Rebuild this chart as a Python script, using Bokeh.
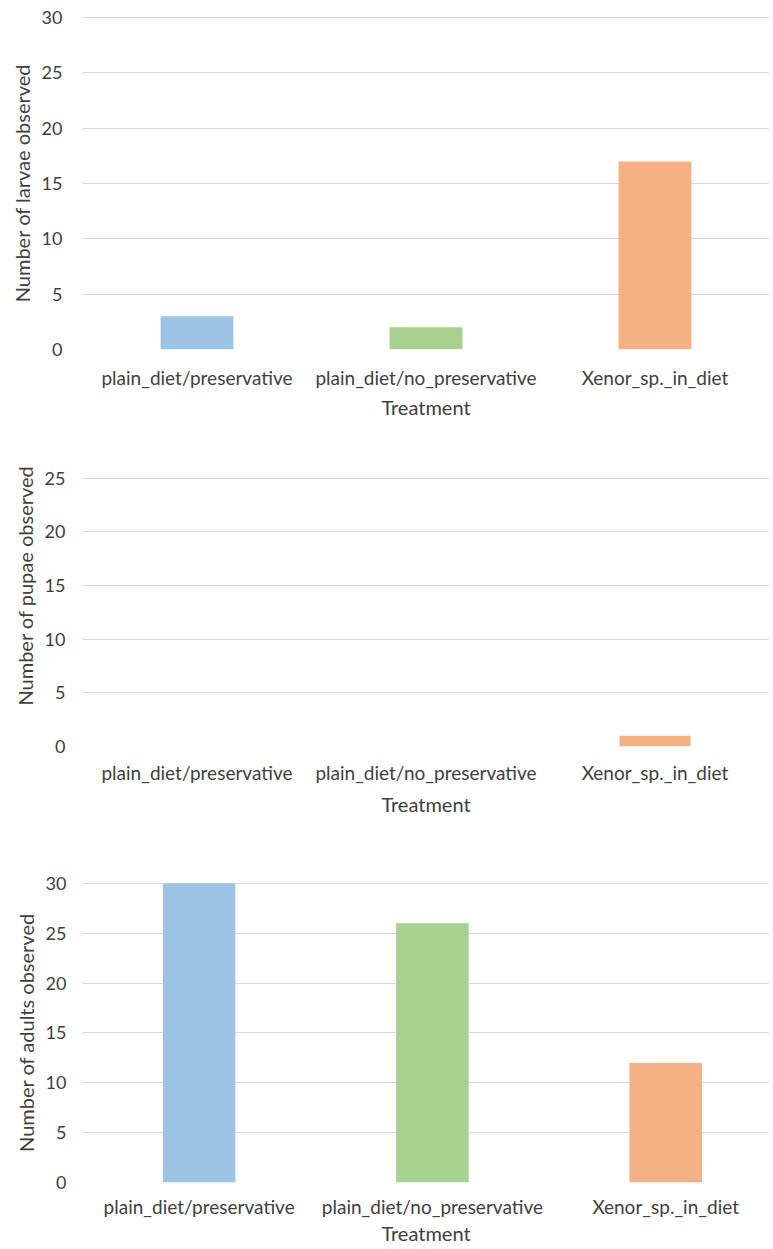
from bokeh.plotting import figure
from bokeh.layouts import column
from bokeh.models import Range1d, FixedTicker, ColumnDataSource
from bokeh.embed import file_html
from bokeh.resources import INLINE

# ---- data ----
categories = ["plain_diet/preservative", "plain_diet/no_preservative", "Xenor_sp._in_diet"]
larvae = [3, 2, 17]
pupae = [0, 0, 1]
adults = [30, 26, 12]
bar_colors = ["#9DC3E6", "#A9D18E", "#F4B183"]
yticks_larvae = [0, 5, 10, 15, 20, 25, 30]
yticks_pupae = [0, 5, 10, 15, 20, 25]
yticks_adults = [0, 5, 10, 15, 20, 25, 30]
x_title = "Treatment"

FONT = "Lato"
TEXT = "#404040"
GRID = "#D9D9D9"


def make(values, ylabel, yticks, ymax, xend, height, top, bottom, left, right,
         bar_w, ystand, xstand, xlabstand):
    p = figure(width=773, height=height,
               x_range=Range1d(-0.5, xend), y_range=Range1d(0, ymax),
               output_backend="svg", toolbar_location=None,
               min_border_top=top, min_border_bottom=bottom,
               min_border_left=left, min_border_right=right)
    xs = list(range(len(categories)))
    src = ColumnDataSource(dict(x=xs, top=values, color=bar_colors, cat=categories))
    p.vbar(x="x", top="top", bottom=0, width=bar_w, fill_color="color",
           line_color=None, source=src)
    p.outline_line_color = None
    p.background_fill_color = "white"
    p.border_fill_color = "white"
    p.xgrid.visible = False
    p.ygrid.ticker = FixedTicker(ticks=yticks)
    p.ygrid.grid_line_color = GRID
    p.ygrid.grid_line_width = 1

    for ax in (p.xaxis[0], p.yaxis[0]):
        ax.axis_line_color = None
        ax.major_tick_line_color = None
        ax.minor_tick_line_color = None
        ax.major_tick_out = 0
        ax.major_tick_in = 0
        ax.major_label_text_font = FONT
        ax.major_label_text_color = TEXT
        ax.axis_label_text_font = FONT
        ax.axis_label_text_font_size = "20px"
        ax.axis_label_text_color = TEXT
        ax.axis_label_text_font_style = "normal"

    p.xaxis.ticker = FixedTicker(ticks=xs)
    p.xaxis.major_label_overrides = {i: c for i, c in enumerate(categories)}
    p.xaxis.major_label_text_font_size = "19px"
    p.xaxis.axis_label = x_title
    p.xaxis.major_label_standoff = xstand
    p.xaxis.axis_label_standoff = xlabstand

    p.yaxis.ticker = FixedTicker(ticks=yticks)
    p.yaxis.major_label_text_font_size = "18px"
    p.yaxis.axis_label = ylabel
    p.yaxis.major_label_standoff = ystand
    p.yaxis.axis_label_standoff = 5
    return p


p1 = make(larvae, "Number of larvae observed", yticks_larvae, 30.1, 2.5,
          424, 16, 75, 82, 3, 0.318, 20, 16, 3)
p2 = make(pupae, "Number of pupae observed", yticks_pupae, 30, 2.5,
          411, 0, 89, 79, 4, 0.31, 17, 14, 5)
p3 = make(adults, "Number of adults observed", yticks_adults, 30.1, 2.445,
          414, 47, 67, 78, 0, 0.311, 16, 12, 0)

layout = column(p1, p2, p3, spacing=0)
open("out.html", "w").write(file_html(layout, INLINE))
